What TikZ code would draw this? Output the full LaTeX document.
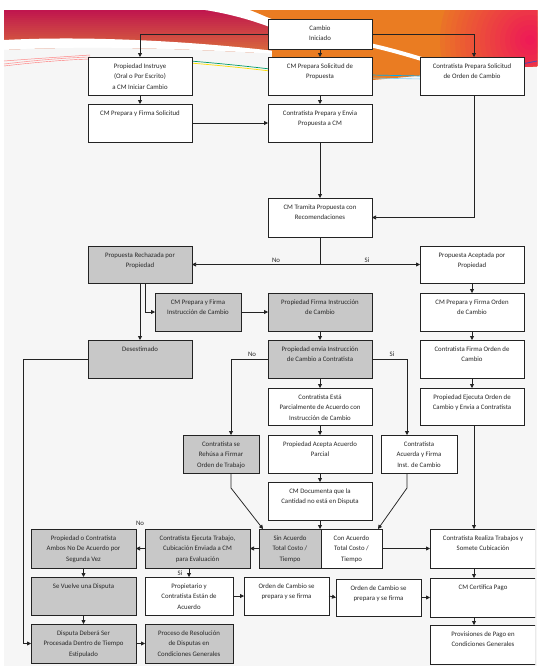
\documentclass[tikz,border=0pt]{standalone}
\usepackage{fontspec}
\setmainfont{Carlito}
\usetikzlibrary{arrows.meta,shadows,calc}
\definecolor{panel}{RGB}{246,246,246}
\definecolor{crim}{RGB}{192,22,78}
\definecolor{crimb}{RGB}{216,104,60}
\definecolor{orng}{RGB}{234,124,34}
\definecolor{pnk}{RGB}{238,22,88}
\definecolor{gfill}{RGB}{200,200,200}
\definecolor{lc}{RGB}{35,35,35}
\definecolor{tc}{RGB}{40,40,40}
\newcommand\mybox[7]{%
  \node[#6, minimum width={(#4-#2)*1pt}, minimum height={(#5-#3)*1pt}] (#1) at ({(#2+#4)/2},{(#3+#5)/2}) {};
  \node[txt, anchor=north] (#1t) at ([yshift=-6.5pt]#1.north) {#7};
}
\begin{document}
\begin{tikzpicture}[x=1pt,y=-1pt,
  box/.style={draw=lc, line width=0.75pt, inner sep=0pt, outer sep=0pt,
    drop shadow={shadow xshift=1.3pt, shadow yshift=-1.3pt, fill=black!70, opacity=0.7}},
  wbox/.style={box, fill=white},
  gbox/.style={box, fill=gfill},
  txt/.style={font=\fontsize{6.8}{10.5}\selectfont, align=center, text=tc, inner sep=0pt},
  lbl/.style={font=\fontsize{6.8}{8}\selectfont, inner sep=0.5pt, text=tc},
  ln/.style={draw=lc, line width=0.75pt},
  arr/.style={ln, -{Triangle[length=4pt,width=4pt]}}]
\useasboundingbox (0,0) rectangle (548,672);
\fill[panel] (4,10) rectangle (537,666);
% banner: red band (strips of a vertical gradient)
\foreach \i in {0,2,...,40} {
  \pgfmathtruncatemacro\pp{100-\i*100/40}
  \fill[crim!\pp!crimb] (4,{10+\i}) rectangle (275,{12.5+\i});
}
% white swoosh under the red band
\fill[white] (4,40) .. controls (80,36) and (180,40) .. (275,51) -- (275,54) .. controls (180,48) and (80,46) .. (4,50) -- cycle;
\fill[panel] (4,50) .. controls (80,46) and (180,48) .. (275,54) -- (275,58) -- (4,58) -- cycle;
% white gap between red band and orange region
\fill[white] (205,10) .. controls (230,14) and (252,20) .. (275,29) -- (275,10) -- cycle;
% orange region with a pink glow on the right
\begin{scope}
\clip (250,10) .. controls (258,13) and (264,16) .. (272,19) -- (272,80) -- (372,80) .. controls (400,78) and (470,70) .. (537,66) -- (537,10) -- cycle;
\fill[orng] (240,0) rectangle (540,90);
\foreach \r in {90,85,...,5} {
  \pgfmathtruncatemacro\pp{100-\r}
  \fill[pnk!\pp!orng] (530,40) circle (\r);
}
\end{scope}
\draw[white, line width=4pt] (360,43) .. controls (385,48) and (405,54) .. (425,60);
\draw[pink!80!red, line width=0.6pt] (4,64) .. controls (30,61) and (60,58) .. (90,57);
\draw[pink!70!red, line width=0.5pt] (4,61) .. controls (30,59) and (60,57) .. (90,55);
\draw[pink!60!red, line width=0.4pt] (4,66) .. controls (30,63) and (60,60) .. (90,59);
\draw[teal!80!green, line width=0.7pt] (190,61) .. controls (215,63) and (245,66) .. (270,69);
\draw[yellow!80!orange, line width=0.7pt] (190,63) .. controls (215,65) and (245,68) .. (270,71);
\draw[cyan, line width=0.7pt] (370,75) -- (422,76);
\draw[cyan!50, line width=0.6pt] (370,78) -- (422,79);
\draw[blue!40!gray, line width=0.8pt] (522,64) -- (537,61);
\begin{scope}
\clip (4,10) rectangle (535,666);
% boxes
\mybox{c0}{268}{19}{372}{49}{wbox}{Cambio\\Iniciado}
\mybox{pi}{88}{57}{192}{95}{wbox}{Propiedad Instruye\\(Oral o Por Escrito)\\a CM Iniciar Cambio}
\mybox{cp}{268}{57}{372}{95}{wbox}{CM Prepara Solicitud de\\Propuesta}
\mybox{cs}{420}{57}{524}{95}{wbox}{Contratista Prepara Solicitud\\de Orden de Cambio}
\mybox{pf}{88}{104}{192}{142}{wbox}{CM Prepara y Firma Solicitud}
\mybox{ce}{268}{104}{372}{142}{wbox}{Contratista Prepara y Envia\\Propuesta a CM}
\mybox{ct}{268}{198}{372}{237}{wbox}{CM Tramita Propuesta con\\Recomendaciones}
\mybox{rj}{88}{246}{192}{283}{gbox}{Propuesta Rechazada por\\Propiedad}
\mybox{ac}{420}{246}{524}{283}{wbox}{Propuesta Aceptada por\\Propiedad}
\mybox{ci}{155}{293}{241}{331}{gbox}{CM Prepara y Firma\\Instrucción de Cambio}
\mybox{pfi}{268}{293}{372}{331}{gbox}{Propiedad Firma Instrucción\\de Cambio}
\mybox{co}{420}{293}{524}{331}{wbox}{CM Prepara y Firma Orden\\de Cambio}
\mybox{ds}{88}{340}{192}{378}{gbox}{Desestimado}
\mybox{pe}{268}{340}{372}{378}{gbox}{Propiedad envia Instrucción\\de Cambio a Contratista}
\mybox{cf}{420}{340}{524}{378}{wbox}{Contratista Firma Orden de\\Cambio}
\mybox{cpa}{268}{388}{372}{425}{wbox}{Contratista Está\\Parcialmente de Acuerdo con\\Instrucción de Cambio}
\mybox{pj}{420}{388}{524}{425}{wbox}{Propiedad Ejecuta Orden de\\Cambio y Envia a Contratista}
\mybox{rh}{183}{435}{259}{473}{gbox}{Contratista se\\Rehúsa a Firmar\\Orden de Trabajo}
\mybox{pa}{268}{435}{372}{473}{wbox}{Propiedad Acepta Acuerdo\\Parcial}
\mybox{ca}{381}{435}{457}{473}{wbox}{Contratista\\Acuerda y Firma\\Inst. de Cambio}
\mybox{cd}{268}{482}{372}{520}{wbox}{CM Documenta que la\\Cantidad no está en Disputa}
\mybox{pc}{31}{529}{136}{568}{gbox}{Propiedad o Contratista\\Ambos No De Acuerdo por\\Segunda Vez}
\mybox{ce2}{145}{529}{250}{568}{gbox}{Contratista Ejecuta Trabajo,\\Cubicación Enviada a CM\\para Evaluación}
\mybox{sa}{259}{529}{321}{568}{gbox}{Sin Acuerdo\\Total Costo /\\Tiempo}
\mybox{cn}{321}{529}{382}{568}{wbox}{Con Acuerdo\\Total Costo /\\Tiempo}
\mybox{cr}{430}{529}{536}{568}{wbox}{Contratista Realiza Trabajos y\\Somete Cubicación}
\mybox{sv}{31}{577}{136}{615}{gbox}{Se Vuelve una Disputa}
\mybox{pt}{145}{577}{233}{615}{wbox}{Propietario y\\Contratista Están de\\Acuerdo}
\mybox{o1}{244}{577}{329}{615}{wbox}{Orden de Cambio se\\prepara y se firma}
\mybox{o2}{336}{579}{421}{616}{wbox}{Orden de Cambio se\\prepara y se firma}
\mybox{cc}{430}{578}{536}{617}{wbox}{CM Certifica Pago}
\mybox{dd}{31}{624}{136}{663}{gbox}{Disputa Deberá Ser\\Procesada Dentro de Tiempo\\Estipulado}
\mybox{pr}{145}{624}{233}{663}{gbox}{Proceso de Resolución\\de Disputas en\\Condiciones Generales}
\mybox{pv}{430}{625}{536}{664}{wbox}{Provisiones de Pago en\\Condiciones Generales}
% connectors
\draw[arr] (c0.west) -| (pi.north);
\draw[arr] (c0.east) -| ([xshift=2pt]cs.north);
\draw[arr] (c0.south) -- (cp.north);
\draw[arr] (pi.south) -- (pf.north);
\draw[arr] (cp.south) -- (ce.north);
\draw[arr] (pf.east) -- (ce.west);
\draw[arr] (ce.south) -- (ct.north);
\draw[arr] ([xshift=2pt]cs.south) |- (ct.east);
\coordinate (d1) at (ct.south |- rj.east);
\draw[ln] (ct.south) -- (d1);
\draw[arr] (d1) -- (rj.east);
\draw[arr] (d1) -- (ac.west);
\node[lbl, anchor=south] (lno1) at (276,263) {No};
\node[lbl, anchor=south] (lsi1) at (367,263) {Si};
\draw[arr] (rj.south) -- (ds.north);
\draw[arr] ([xshift=5pt]rj.south) |- (ci.west);
\draw[arr] (ci.east) -- (pfi.west);
\draw[arr] (pfi.south) -- (pe.north);
\draw[arr] (ac.south) -- (co.north);
\draw[arr] (co.south) -- (cf.north);
\draw[arr] (cf.south) -- (pj.north);
\coordinate (rx) at (474,0);
\draw[arr] (pj.south -| rx) -- (cr.north -| rx);
\coordinate (lft) at (23,0);
\draw[arr] (ds.west) -- (ds.west -| lft) |- (dd.west);
\coordinate (nob) at (231,0);
\coordinate (sib) at (407,0);
\draw[arr] (pe.west) -- (pe.west -| nob) -- (nob |- rh.north);
\draw[arr] (pe.east) -- (pe.east -| sib) -- (sib |- ca.north);
\node[lbl, anchor=south] (lno2) at (252,357) {No};
\node[lbl, anchor=south] (lsi2) at (392,357) {Si};
\draw[arr] (pe.south) -- (cpa.north);
\draw[arr] (cpa.south) -- (pa.north);
\draw[arr] (pa.south) -- (cd.north);
\draw[arr] (cd.south) -- (cd.south |- sa.north);
\coordinate (bend) at (0,488);
\draw[arr] (nob |- rh.south) -- (nob |- bend) -- ([xshift=4pt]sa.north west);
\draw[arr] (sib |- ca.south) -- (sib |- bend) -- ([xshift=-4pt]cn.north east);
\draw[arr] (sa.west) -- (ce2.east);
\draw[arr] (ce2.west) -- (pc.east);
\node[lbl] (lno3) at (140,523) {No};
\draw[arr] (cn.east) -- (cr.west);
\draw[arr] (pc.south) -- (sv.north);
\draw[arr] (sv.south) -- (dd.north);
\draw[arr] (dd.east) -- (pr.west);
\draw[arr] (pt.north |- ce2.south) -- (pt.north);
\node[lbl] (lsi3) at (180,573) {Si};
\draw[arr] (pt.east) -- (o1.west);
\draw[arr] (o1.east) -- (o2.west);
\draw[arr] (o2.east) -- (o2.east -| cc.west);
\draw[arr] (cr.south -| rx) -- (cc.north -| rx);
\draw[arr] (cc.south -| rx) -- (pv.north -| rx);
\end{scope}
\end{tikzpicture}
\end{document}
